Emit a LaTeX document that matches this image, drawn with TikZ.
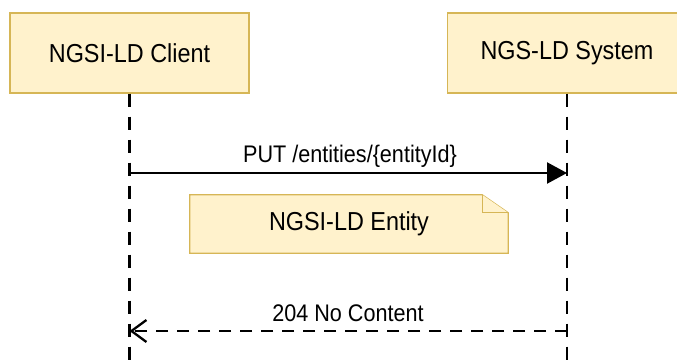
\documentclass[tikz,border=0pt]{standalone}
\usepackage{fontspec}
\setmainfont{Liberation Sans}
\newfontfamily\narrowsans[FakeStretch=0.9]{Liberation Sans}
\definecolor{notefill}{RGB}{255,242,204}
\definecolor{noteline}{RGB}{214,182,86}
\usetikzlibrary{arrows.meta,positioning,calc,backgrounds}
\tikzset{
  actor/.style={draw=noteline, fill=notefill, line width=1.3pt,
              minimum width=239pt, minimum height=80pt, inner sep=0pt,
              font=\narrowsans\fontsize{26}{30}\selectfont},
  notebox/.style={minimum width=318pt, minimum height=58pt, inner sep=0pt,
              font=\narrowsans\fontsize{26}{30}\selectfont},
  noteedge/.style={draw=noteline, fill=notefill, line width=1.3pt, line join=miter},
  lifeline/.style={line width=2.8pt, dash pattern=on 13pt off 10pt},
  msg/.style={line width=2.3pt, -{Triangle[length=20pt,width=21pt]}},
  reply/.style={line width=2.3pt, dash pattern=on 12pt off 9pt,
              -{Straight Barb[length=15pt,width=22pt,line width=2.3pt]}},
  lbl/.style={font=\narrowsans\fontsize{24}{28}\selectfont, inner sep=0pt},
}

\begin{document}
\begin{tikzpicture}[x=1pt,y=-1pt]
        \useasboundingbox (0,0) rectangle (677,363);
        % participants
        \node[actor] (client) at (129.5,53) {NGSI-LD Client};
        \node[actor] (system) at (567,53) {NGS-LD System};
        \coordinate (clientend) at (129.5,363);
        \coordinate (systemend) at (567,363);
        \draw[lifeline] (client.south) -- (clientend);
        \draw[lifeline] (system.south) -- (systemend);
        % request
        \coordinate (putL) at (129.5,173);
        \coordinate (putR) at (567,173);
        \draw[msg] (putL) -- (putR);
        \node[lbl] (putlbl) at (350,156) {PUT /entities/\{entityId\}};
        % payload note
        \node[notebox] (entity) at (349,224) {NGSI-LD Entity};
        \begin{scope}[on background layer]
          \draw[noteedge] (entity.south west) |- ($(entity.north east)+(-26,0)$)
                -- ($(entity.north east)+(0,18)$) |- cycle;
          \draw[noteedge] ($(entity.north east)+(-26,0)$) -- ($(entity.north east)+(-26,18)$)
                -- ($(entity.north east)+(0,18)$);
        \end{scope}
        % response
        \coordinate (okR) at (567,331);
        \coordinate (okL) at (129.5,331);
        \draw[reply] (okR) -- (okL);
        \node[lbl] (oklbl) at (348,313) {204 No Content};
      \end{tikzpicture}
\end{document}
